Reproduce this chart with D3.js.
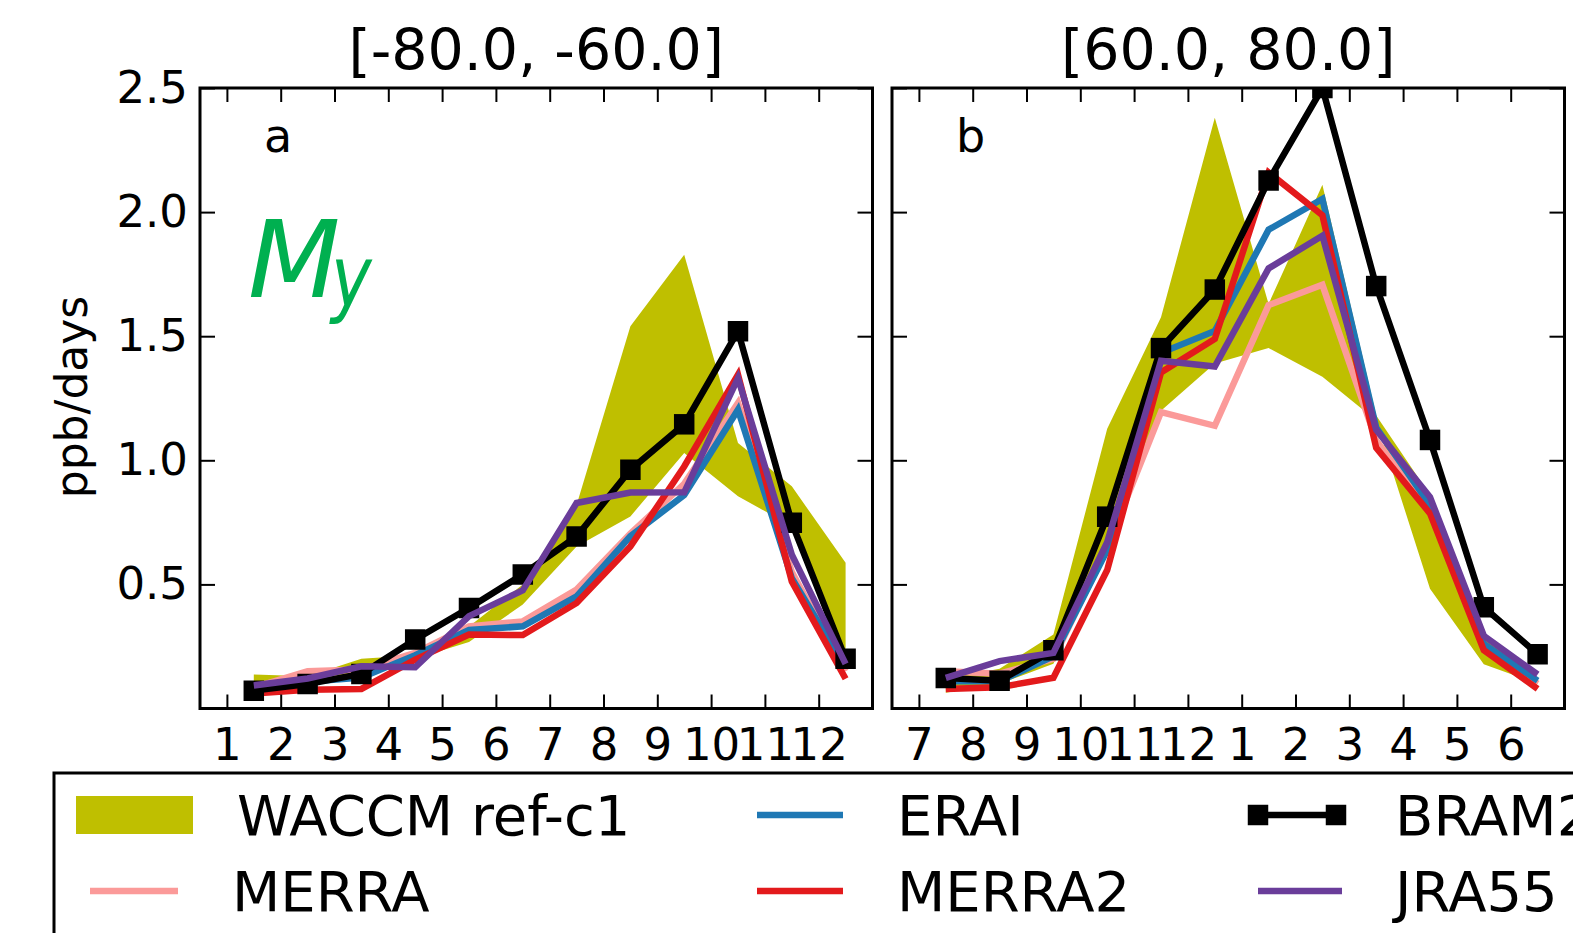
<!DOCTYPE html>
<html>
<head>
<meta charset="utf-8">
<script src="https://cdn.jsdelivr.net/npm/d3@7"></script>
<style>
  html, body { margin: 0; padding: 0; background: #fff; }
  svg { display: block; font-family: "DejaVu Sans", sans-serif; }
</style>
</head>
<body>
<svg id="chart" width="1573" height="933"></svg>
<script>
// ---------------- data ----------------
const panelTitles = ["[-80.0, -60.0]", "[60.0, 80.0]"];
const panelLetters = ["a", "b"];
const monthLabelsS = ["1","2","3","4","5","6","7","8","9","10","11","12"];
const monthLabelsN = ["7","8","9","10","11","12","1","2","3","4","5","6"];
const yTicks = [0.5, 1.0, 1.5, 2.0, 2.5];
const seriesNames = ["WACCM ref-c1", "MERRA", "ERAI", "MERRA2", "BRAM2", "JRA55"];

// Southern panel (a), months 1..12
const waccmLoS = [0.09, 0.10, 0.13, 0.20, 0.268, 0.419, 0.653, 0.774, 1.029, 0.855, 0.735, 0.19];
const waccmHiS = [0.137, 0.13, 0.20, 0.215, 0.33, 0.50, 0.82, 1.54, 1.828, 1.07, 0.895, 0.587];
const merraS   = [0.085, 0.150, 0.157, 0.224, 0.331, 0.351, 0.479, 0.705, 0.905, 1.231, 0.55, 0.15];
const eraiS    = [0.075, 0.108, 0.125, 0.215, 0.316, 0.331, 0.452, 0.694, 0.860, 1.204, 0.525, 0.164];
const merra2S  = [0.060, 0.076, 0.079, 0.197, 0.298, 0.296, 0.425, 0.653, 0.975, 1.345, 0.512, 0.12];
const bram2S   = [0.072, 0.099, 0.139, 0.278, 0.405, 0.540, 0.693, 0.962, 1.145, 1.52, 0.748, 0.20];
const jra55S   = [0.093, 0.121, 0.170, 0.166, 0.372, 0.476, 0.828, 0.870, 0.871, 1.331, 0.62, 0.18];

// Northern panel (b), months 7..12,1..6
const waccmLoN = [0.063, 0.10, 0.18, 0.64, 1.20, 1.39, 1.452, 1.337, 1.16, 0.482, 0.178, 0.10];
const waccmHiN = [0.12, 0.16, 0.298, 1.127, 1.576, 2.38, 1.63, 2.11, 1.18, 0.86, 0.30, 0.12];
const merraN   = [0.15, 0.14, 0.20, 0.65, 1.194, 1.139, 1.625, 1.707, 1.08, 0.80, 0.25, 0.10];
const eraiN    = [0.11, 0.11, 0.21, 0.638, 1.433, 1.521, 1.929, 2.053, 1.132, 0.819, 0.26, 0.112];
const merra2N  = [0.079, 0.086, 0.124, 0.558, 1.354, 1.489, 2.16, 1.987, 1.05, 0.786, 0.235, 0.079];
const bram2N   = [0.123, 0.112, 0.235, 0.773, 1.452, 1.688, 2.127, 2.50, 1.702, 1.082, 0.408, 0.219];
const jra55N   = [0.123, 0.191, 0.224, 0.67, 1.401, 1.378, 1.773, 1.905, 1.123, 0.852, 0.293, 0.137];

// ---------------- styles ----------------
const colors = {
  "WACCM ref-c1": "#bfbf00",
  "MERRA": "#fb9a99",
  "ERAI": "#1f78b4",
  "MERRA2": "#e31a1c",
  "BRAM2": "#000000",
  "JRA55": "#6a3d9a"
};

const panels = [
  { x0: 200, x1: 872.5, months: monthLabelsS, lo: waccmLoS, hi: waccmHiS,
    lines: { "MERRA": merraS, "ERAI": eraiS, "MERRA2": merra2S, "BRAM2": bram2S, "JRA55": jra55S } },
  { x0: 892, x1: 1564.5, months: monthLabelsN, lo: waccmLoN, hi: waccmHiN,
    lines: { "MERRA": merraN, "ERAI": eraiN, "MERRA2": merra2N, "BRAM2": bram2N, "JRA55": jra55N } }
];

const plotTop = 88, plotBottom = 708.5;
const lineW = 6.5;
const svg = d3.select("#chart");
const defs = svg.append("defs");

const y = d3.scaleLinear().domain([0, 2.5]).range([plotBottom, plotTop]);

panels.forEach((p, pi) => {
  const x = d3.scaleLinear().domain([0.5, 13]).range([p.x0, p.x1]);
  const g = svg.append("g");
  const clipId = "clip" + pi;
  defs.append("clipPath").attr("id", clipId)
    .append("rect").attr("x", p.x0).attr("y", plotTop).attr("width", p.x1 - p.x0).attr("height", plotBottom - plotTop);

  const plot = g.append("g").attr("clip-path", `url(#${clipId})`);

  // WACCM band
  const idx = d3.range(12);
  const area = d3.area()
    .x(i => x(i + 1.5))
    .y0(i => y(p.lo[i]))
    .y1(i => y(p.hi[i]));
  plot.append("path").datum(idx).attr("d", area).attr("fill", colors["WACCM ref-c1"]).attr("stroke", "none");

  const line = d3.line().x((d, i) => x(i + 1.5)).y(d => y(d));
  ["MERRA", "ERAI", "MERRA2", "BRAM2", "JRA55"].forEach(name => {
    const vals = p.lines[name];
    plot.append("path").datum(vals).attr("d", line)
      .attr("fill", "none").attr("stroke", colors[name]).attr("stroke-width", lineW)
      .attr("stroke-linejoin", "miter").attr("stroke-miterlimit", 10);
    if (name === "BRAM2") {
      plot.selectAll(null).data(vals).enter().append("path")
        .attr("d", d3.symbol(d3.symbolSquare, 420)())
        .attr("transform", (d, i) => `translate(${x(i + 1.5)},${y(d)})`)
        .attr("fill", "#000");
    }
  });

  // axes (inward ticks on all sides)
  const xb = g.append("g").attr("transform", `translate(0,${plotBottom})`)
    .call(d3.axisBottom(x).tickValues(d3.range(1, 13)).tickSize(-14).tickPadding(20)
      .tickFormat(i => p.months[i - 1]));
  const xt = g.append("g").attr("transform", `translate(0,${plotTop})`)
    .call(d3.axisTop(x).tickValues(d3.range(1, 13)).tickSize(-14).tickFormat(""));
  const yl = g.append("g").attr("transform", `translate(${p.x0},0)`)
    .call(d3.axisLeft(y).tickValues(yTicks).tickSize(-15).tickPadding(12)
      .tickFormat(pi === 0 ? d3.format(".1f") : () => ""));
  const yr = g.append("g").attr("transform", `translate(${p.x1},0)`)
    .call(d3.axisRight(y).tickValues(yTicks).tickSize(-15).tickFormat(""));
  [xb, xt, yl, yr].forEach(a => {
    a.select(".domain").remove();
    a.selectAll(".tick line").attr("stroke", "#000").attr("stroke-width", 2);
    a.selectAll("text").attr("font-size", 45).attr("font-family", "DejaVu Sans").attr("fill", "#000");
  });

  // frame
  g.append("rect").attr("x", p.x0).attr("y", plotTop).attr("width", p.x1 - p.x0).attr("height", plotBottom - plotTop)
    .attr("fill", "none").attr("stroke", "#000").attr("stroke-width", 3);

  // title
  g.append("text").attr("x", (p.x0 + p.x1) / 2).attr("y", 70).attr("text-anchor", "middle")
    .attr("font-size", 57).text(panelTitles[pi]);
  // panel letter
  g.append("text").attr("x", p.x0 + 64).attr("y", 152).attr("font-size", 46).text(panelLetters[pi]);
});

// y axis label
svg.append("text").attr("transform", "translate(87,397) rotate(-90)")
  .attr("text-anchor", "middle").attr("font-size", 44).text("ppb/days");

// M_y annotation
svg.append("text").attr("fill", "#00b050").attr("font-style", "italic")
  .attr("x", 248).attr("y", 297).attr("font-size", 107).text("M");
svg.append("text").attr("fill", "#00b050").attr("font-style", "italic")
  .attr("transform", "translate(331,306) scale(0.8,1)").attr("font-size", 86).text("y");

// ---------------- legend ----------------
const lg = svg.append("g");
lg.append("rect").attr("x", 54).attr("y", 773).attr("width", 1600).attr("height", 300)
  .attr("fill", "#fff").attr("stroke", "#000").attr("stroke-width", 3);

const legendItems = [
  { name: "WACCM ref-c1", type: "patch", hx0: 76, hx1: 193, tx: 237, cy: 815 },
  { name: "MERRA", type: "line", hx0: 90, hx1: 178, tx: 232, cy: 891 },
  { name: "ERAI", type: "line", hx0: 757, hx1: 843, tx: 897, cy: 815 },
  { name: "MERRA2", type: "line", hx0: 757, hx1: 843, tx: 897, cy: 891 },
  { name: "BRAM2", type: "marker", hx0: 1258, hx1: 1336, tx: 1395, cy: 815 },
  { name: "JRA55", type: "line", hx0: 1258, hx1: 1342, tx: 1395, cy: 891 }
];
legendItems.forEach(it => {
  if (it.type === "patch") {
    lg.append("rect").attr("x", it.hx0).attr("y", it.cy - 19).attr("width", it.hx1 - it.hx0).attr("height", 38)
      .attr("fill", colors[it.name]);
  } else {
    lg.append("line").attr("x1", it.hx0).attr("x2", it.hx1).attr("y1", it.cy).attr("y2", it.cy)
      .attr("stroke", colors[it.name]).attr("stroke-width", lineW);
    if (it.type === "marker") {
      [it.hx0, it.hx1].forEach(px => {
        lg.append("path").attr("d", d3.symbol(d3.symbolSquare, 420)())
          .attr("transform", `translate(${px},${it.cy})`).attr("fill", colors[it.name]);
      });
    }
  }
  lg.append("text").attr("x", it.tx).attr("y", it.cy + 20).attr("font-size", 56).text(it.name);
});
</script>
</body>
</html>
